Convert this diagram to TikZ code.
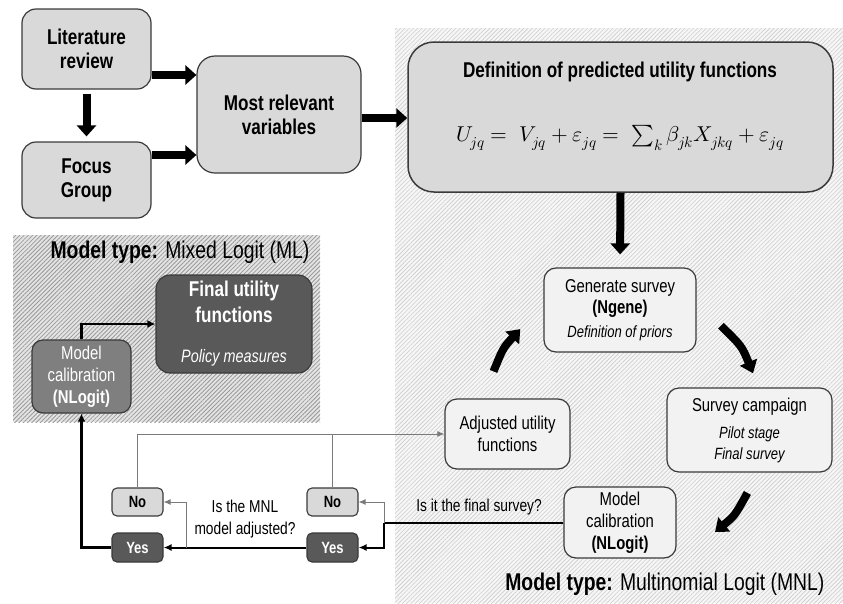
\documentclass[tikz,border=0pt]{standalone}
\usepackage{fontspec}
\setmainfont{Liberation Sans}[FakeStretch=0.8]
\usepackage{unicode-math}
\setmathfont{Latin Modern Math}
\usetikzlibrary{arrows.meta,patterns.meta}
\definecolor{boxline}{HTML}{3A3A3A}
\definecolor{topfill}{HTML}{D9D9D9}
\definecolor{cycfill}{HTML}{F2F2F2}
\definecolor{mlcalfill}{HTML}{7F7F7F}
\definecolor{darkfill}{HTML}{595959}
\definecolor{mnlbg}{HTML}{F6F6F6}
\definecolor{mnlhatch}{HTML}{CCCCCC}
\definecolor{mlbg}{HTML}{E4E4E4}
\definecolor{mlhatch}{HTML}{9A9A9A}
\definecolor{thingray}{HTML}{7A7A7A}
\tikzset{
  topbox/.style={draw=boxline, line width=1.2pt, fill=topfill, rounded corners=14pt,
    inner sep=0pt, align=center, font=\fontsize{21.4}{24}\selectfont\bfseries},
  cycbox/.style={draw=boxline, line width=1.2pt, fill=cycfill, rounded corners=12pt,
    inner sep=0pt, align=center, font=\fontsize{18.6}{22}\selectfont},
  smallbox/.style={draw=boxline, line width=1.1pt, rounded corners=5pt, inner sep=0pt,
    minimum width=51pt, minimum height=28pt, font=\fontsize{16.3}{17}\selectfont\bfseries},
  nobox/.style={smallbox, fill=topfill},
  yesbox/.style={smallbox, fill=darkfill, text=white},
  bigarrow/.style={line width=8pt, -{Triangle[length=11pt,width=19pt]}},
  curvearrow/.style={line width=8pt, -{Triangle[length=12pt,width=18pt]}},
  thinline/.style={draw=thingray, line width=1pt, -{Latex[length=7pt,width=6pt]}},
  medline/.style={draw=black, line width=1.5pt},
  thickline/.style={draw=black, line width=2pt, -{Latex[length=8pt,width=7pt]}},
  vthickline/.style={draw=black, line width=2.5pt, -{Latex[length=8pt,width=8pt]}},
  qtext/.style={font=\fontsize{17.2}{22}\selectfont, align=center},
  typetext/.style={font=\fontsize{24.2}{26}\selectfont, anchor=east}
}
\newcommand{\smit}{\fontsize{16.3}{20}\selectfont\itshape}
\begin{document}
\begin{tikzpicture}[x=1pt,y=-1pt]
\useasboundingbox (0,0) rectangle (843,603);
% hatched regions
\fill[mnlbg] (395,28) rectangle (843,603);
\fill[pattern={Lines[angle=45,distance=3pt,line width=0.6pt]}, pattern color=mnlhatch] (395,28) rectangle (843,603);
\fill[mlbg] (13,235) rectangle (320,422);
\fill[pattern={Lines[angle=45,distance=3pt,line width=0.8pt]}, pattern color=mlhatch] (13,235) rectangle (320,422);

% top boxes
\node[topbox, minimum width=129pt, minimum height=80pt] (lit) at (86.5,49) {Literature\\review};
\node[topbox, minimum width=129pt, minimum height=76pt] (focus) at (86.5,180) {Focus\\Group};
\node[topbox, minimum width=164pt, minimum height=117pt, rounded corners=18pt] (most) at (279,114.5) {Most relevant\\variables};
\node[topbox, minimum width=425pt, minimum height=150pt, rounded corners=26pt, line width=1.5pt] (def) at (620.5,117) {};
\node[font=\fontsize{21.4}{24}\selectfont\bfseries] (deft) at (620,72) {Definition of predicted utility functions};
\node[font=\fontsize{21.5}{24}\selectfont] (form) at (620,138) {$U_{jq} =\; V_{jq} + \varepsilon_{jq} =\; \sum_{k} \beta_{jk} X_{jkq} + \varepsilon_{jq}$};

% big arrows
\draw[bigarrow] (lit.east |- 0,75) -- (most.west |- 0,75);
\draw[bigarrow] (focus.east |- 0,155) -- (most.west |- 0,155);
\draw[bigarrow, shorten <=4pt, shorten >=5pt] (lit.south) -- (focus.north);
\draw[bigarrow] (most.east |- 0,118) -- (def.west |- 0,118);

% cycle boxes
\node[cycbox, minimum width=152pt, minimum height=84pt] (gen) at (620,310)
  {Generate survey\\[-1pt]\textbf{(Ngene)}\\[2pt]\smit Definition of priors};
\node[cycbox, minimum width=165pt, minimum height=84pt] (surv) at (749.5,430)
  {Survey campaign\\[5pt]\smit Pilot stage\\[-1pt]\smit Final survey};
\node[cycbox, minimum width=125pt, minimum height=70pt] (adj) at (507.5,434)
  {Adjusted utility\\functions};
\node[cycbox, minimum width=112pt, minimum height=71pt] (calmnl) at (620,522.5)
  {Model\\calibration\\\textbf{(NLogit)}};

\draw[bigarrow, shorten >=13pt] (def.south) -- (gen.north);
\draw[curvearrow] (720.9,325.7) .. controls (741.9,346.2) .. (753,373.3);
\draw[curvearrow] (747.4,492.9) .. controls (734.9,515.6) .. (715,532);
\draw[curvearrow] (493.5,371.4) .. controls (503.2,347.8) .. (520.3,329.1);

% ML boxes
\node[cycbox, fill=mlcalfill, text=white, minimum width=99pt, minimum height=73pt, rounded corners=11pt] (calml) at (81.5,376.5)
  {Model\\calibration\\\textbf{(NLogit)}};
\node[topbox, fill=darkfill, text=white, minimum width=156pt, minimum height=98pt] (final) at (234,324)
  {Final utility\\[2pt]functions\\[16pt]\fontsize{18}{18}\selectfont\mdseries\itshape Policy measures};

% decision boxes
\node[nobox] (no1) at (137.5,502) {No};
\node[nobox] (no2) at (332.5,502) {No};
\node[yesbox, minimum height=29pt] (yes1) at (137.5,547.5) {Yes};
\node[yesbox, minimum height=29pt] (yes2) at (332.5,547.5) {Yes};

% labels
\node[qtext] (q1) at (479,507) {Is it the final survey?};
\node[qtext] (q2) at (245,519) {Is the MNL\\model adjusted?};
\node[typetext] (mllab) at (313,252) {\textbf{Model type:} Mixed Logit (ML)};
\node[typetext] (mnllab) at (828,584) {\textbf{Model type:} Multinomial Logit (MNL)};

% connectors
\coordinate (j1) at (384,523);
\coordinate (j2) at (186,547.5);
\draw[medline] (calmnl.west |- j1) -- (j1);
\draw[thinline] (j1) |- (no2.east);
\draw[thickline] (j1) |- (yes2.east);
\draw[thickline] (yes2.west) -- (yes1.east);
\draw[thinline] (j2) |- (no1.east);
\draw[vthickline] (yes1.west) -| (calml.south);
\draw[vthickline] (calml.north) |- (final.west);
\draw[thinline] (no1.north) |- (adj.west);
\draw[thinline, -] (no2.north) -- (no2.north |- adj.west);
\end{tikzpicture}
\end{document}
